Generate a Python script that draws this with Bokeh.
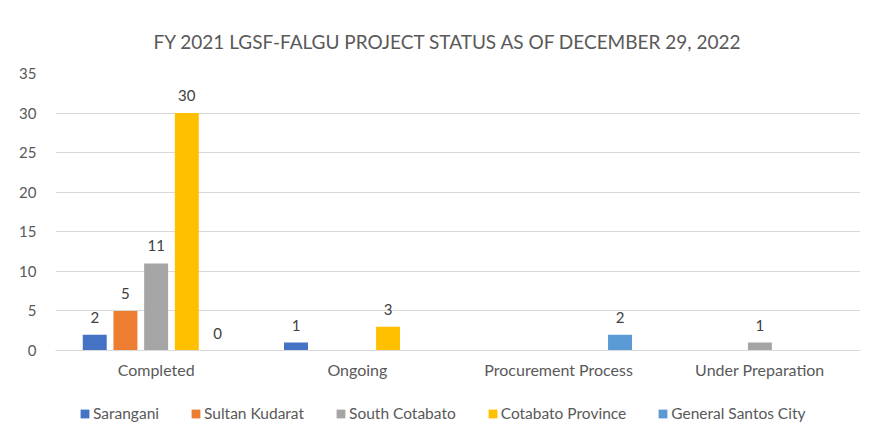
from bokeh.plotting import figure
from bokeh.layouts import column
from bokeh.models import FactorRange, ColumnDataSource, Legend, LegendItem, FixedTicker, Range1d
from bokeh.transform import dodge
from bokeh.embed import file_html
from bokeh.resources import INLINE
from bokeh.core.properties import value

categories = ["Completed", "Ongoing", "Procurement Process", "Under Preparation"]
series_names = ["Sarangani", "Sultan Kudarat", "South Cotabato", "Cotabato Province", "General Santos City"]
sarangani = [2, 1, None, None]
sultan_kudarat = [5, None, None, None]
south_cotabato = [11, None, None, 1]
cotabato_province = [30, 3, None, None]
general_santos = [0, None, 2, None]
colors = ["#4472C4", "#ED7D31", "#A5A5A5", "#FFC000", "#5B9BD5"]
y_ticks = [0, 5, 10, 15, 20, 25, 30, 35]

FONT = "Lato"
TXT = "#595959"
W = 864

p = figure(x_range=FactorRange(*categories), y_range=Range1d(0, 35),
           width=W, height=385, output_backend="svg", toolbar_location=None,
           title="FY 2021 LGSF-FALGU PROJECT STATUS AS OF DECEMBER 29, 2022",
           min_border_left=55, min_border_right=4, min_border_top=73, min_border_bottom=35)
p.outline_line_color = None
p.title.align = "left"
p.title.offset = 98
p.title.standoff = 42
p.title.text_font = FONT
p.title.text_font_size = "19px"
p.title.text_font_style = "normal"
p.title.text_color = TXT

all_series = [sarangani, sultan_kudarat, south_cotabato, cotabato_province, general_santos]
step = 0.1525
bw = 0.119
for i, (name, vals) in enumerate(zip(series_names, all_series)):
    xs = [c for c, v in zip(categories, vals) if v is not None]
    ys = [v for v in vals if v is not None]
    src = ColumnDataSource(dict(x=xs, top=ys, lab=[str(v) for v in ys]))
    off = (i - 2) * step
    p.vbar(x=dodge("x", off, range=p.x_range), top="top", width=bw, source=src,
           fill_color=colors[i], line_color=None)
    p.text(x=dodge("x", off, range=p.x_range), y="top", text="lab", source=src,
           text_align="center", text_baseline="bottom", y_offset=-12,
           text_font=value(FONT), text_font_size="15px", text_color="#404040")

p.yaxis.ticker = FixedTicker(ticks=y_ticks)
p.xgrid.grid_line_color = None
p.ygrid.grid_line_color = "#d9d9d9"
for ax in (p.xaxis, p.yaxis):
    ax.axis_line_color = None
    ax.major_tick_line_color = None
    ax.minor_tick_line_color = None
    ax.major_label_text_font = FONT
    ax.major_label_text_font_size = "15px"
    ax.major_label_text_color = TXT
p.xaxis.major_label_text_font_size = "16px"
p.yaxis.major_label_standoff = 13
p.xaxis.major_label_standoff = 3
p.xaxis.axis_line_color = "#d9d9d9"

# legend strip
lf = figure(width=W, height=42, output_backend="svg", toolbar_location=None,
            x_axis_type=None, y_axis_type=None, min_border=0,
            x_range=Range1d(0, 1), y_range=Range1d(0, 1))
lf.outline_line_color = None
lf.grid.grid_line_color = None
items = []
for i, name in enumerate(series_names):
    r = lf.vbar(x=[-10], top=[-10], bottom=[-11], width=0.1, fill_color=colors[i], line_color=None)
    items.append(LegendItem(label=name, renderers=[r]))
legend = Legend(items=items, orientation="horizontal", location=(24, 5),
                label_text_font=FONT, label_text_font_size="15.5px", label_text_color=TXT,
                glyph_width=11, glyph_height=11, label_standoff=3, spacing=31,
                border_line_color=None, background_fill_alpha=0, padding=0, margin=0)
lf.add_layout(legend, "center")

open("out.html", "w").write(file_html(column(p, lf, spacing=0), INLINE))
